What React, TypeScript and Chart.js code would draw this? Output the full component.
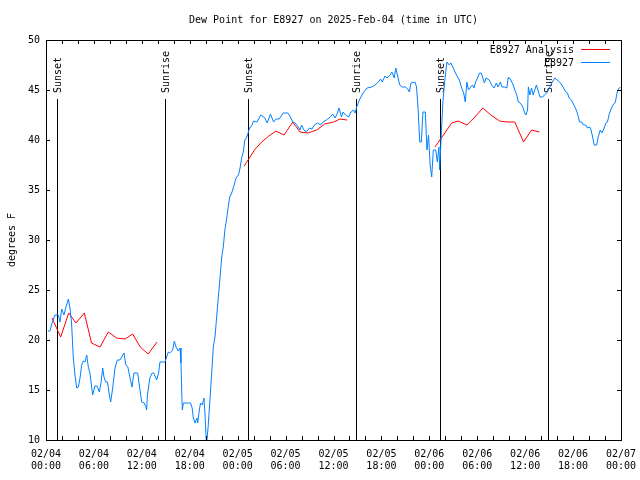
import React, { useEffect, useRef } from 'react';
import { Chart, registerables } from 'chart.js';

Chart.register(...registerables);

const FONT = '"DejaVu Sans Mono", monospace';
const TITLE = 'Dew Point for E8927 on 2025-Feb-04 (time in UTC)';
const Y_TITLE = 'degrees F';

const xTickDates = ['02/04', '02/04', '02/04', '02/04', '02/05', '02/05', '02/05', '02/05', '02/06', '02/06', '02/06', '02/06', '02/07'];
const xTickTimes = ['00:00', '06:00', '12:00', '18:00', '00:00', '06:00', '12:00', '18:00', '00:00', '06:00', '12:00', '18:00', '00:00'];

const seriesNames = ['E8927 Analysis', 'E8927'];
const seriesColors = ['#ff0000', '#0080ff'];

// hours since 02/04 00:00 UTC
const blueHours = [
  0.25, 0.5, 0.75, 1.13, 1.54, 1.75, 1.96, 2.25, 2.5, 2.8, 3.0, 3.2, 3.42, 3.63, 3.84, 4.05, 4.26, 4.47, 4.67, 4.88,
  5.1, 5.3, 5.5, 5.72, 5.84, 6.13, 6.4, 6.68, 6.9, 7.1, 7.26, 7.47, 7.7, 7.93, 8.1, 8.35, 8.64, 8.93, 9.26, 9.47,
  9.77, 10.0, 10.25, 10.5, 10.77, 11.0, 11.48, 11.68, 11.98, 12.3, 12.52, 12.6, 12.7, 13.0, 13.3, 13.5, 13.85, 14.1, 14.27, 14.9,
  15.1, 15.32, 15.5, 15.86, 16.07, 16.28, 16.57, 16.78, 16.9, 17.0, 17.07, 17.2, 18.1, 18.3, 18.45, 18.66, 18.9, 19.0, 19.2, 19.35,
  19.57, 19.78, 19.9, 20.0, 20.1, 20.3, 20.5, 20.75, 20.95, 21.16, 21.37, 21.58, 21.8, 22.0, 22.2, 22.4, 22.6, 22.8, 23.0, 23.25,
  23.45, 23.8, 24.1, 24.3, 24.5, 24.7, 24.9, 25.1, 25.3, 25.5, 25.8, 26.0, 26.4, 26.9, 27.4, 27.7, 28.1, 28.5, 28.8, 29.2,
  29.7, 30.3, 30.6, 30.9, 31.2, 31.5, 31.8, 32.0, 32.3, 32.6, 33.0, 33.3, 33.6, 34.0, 34.4, 34.7, 35.1, 35.6, 35.9, 36.2,
  36.5, 36.7, 37.0, 37.2, 37.5, 37.9, 38.2, 38.5, 38.7, 38.9, 39.3, 39.7, 40.2, 40.8, 41.2, 41.6, 41.9, 42.1, 42.45, 42.7,
  43.1, 43.3, 43.6, 43.8, 44.0, 44.3, 44.6, 45.0, 45.3, 45.5, 45.7, 46.2, 46.4, 46.6, 46.8, 47.0, 47.2, 47.5, 47.7, 47.9,
  48.1, 48.3, 48.5, 48.8, 49.0, 49.2, 49.3, 49.5, 49.7, 49.9, 50.2, 50.5, 50.7, 51.1, 51.4, 51.75, 52.05, 52.3, 52.5, 52.7,
  52.9, 53.1, 53.4, 53.6, 53.75, 54.3, 54.5, 54.7, 54.9, 55.1, 55.5, 55.8, 56.1, 56.4, 56.6, 56.9, 57.1, 57.45, 57.7, 57.9,
  58.2, 58.5, 58.7, 58.95, 59.15, 59.4, 59.7, 59.9, 60.1, 60.3, 60.4, 60.6, 60.8, 61.0, 61.2, 61.4, 61.6, 61.85, 62.2, 62.4,
  62.7, 63.1, 63.4, 63.7, 64.0, 64.3, 64.6, 64.8, 65.1, 65.3, 65.5, 65.8, 66.1, 66.4, 66.6, 66.8, 67.1, 67.3, 67.6, 67.8,
  68.1, 68.25, 68.45, 68.65, 68.95, 69.15, 69.4, 69.6, 69.9, 70.1, 70.3, 70.5, 70.7, 71.0, 71.3, 71.5, 71.7, 71.9,
];
const blueValues = [
  20.9, 20.9, 21.7, 22.5, 22.5, 21.8, 23.1, 22.5, 23.3, 24.1, 23.2, 21.7, 18.2, 16.5, 15.2, 15.3, 16.2, 17.5, 17.9, 17.8,
  18.5, 17.3, 16.7, 15.3, 14.5, 15.4, 15.4, 14.8, 15.8, 17.2, 16.3, 15.8, 15.8, 14.5, 13.8, 15.2, 17.2, 18.0, 18.0, 18.3,
  18.7, 17.5, 17.3, 16.3, 15.3, 16.7, 16.7, 15.5, 13.8, 13.7, 13.3, 13.0, 14.5, 16.2, 16.7, 16.7, 16.0, 16.7, 17.8, 17.8,
  18.3, 18.8, 18.7, 19.0, 19.9, 19.3, 18.9, 19.2, 17.7, 14.7, 13.0, 13.7, 13.7, 13.2, 12.2, 11.7, 12.2, 11.7, 13.0, 13.7,
  13.5, 14.2, 12.7, 11.0, 9.5, 11.3, 13.7, 16.7, 19.3, 20.3, 22.3, 24.3, 26.3, 28.3, 29.3, 31.0, 32.0, 33.2, 34.3, 34.7,
  35.2, 36.2, 36.5, 37.2, 38.2, 38.8, 40.0, 40.2, 40.7, 41.2, 41.5, 41.9, 41.8, 42.5, 42.2, 41.7, 42.6, 41.8, 42.1, 42.1,
  42.7, 42.7, 42.3, 41.8, 41.7, 41.4, 41.0, 41.5, 41.0, 40.8, 41.2, 41.1, 41.5, 41.7, 41.5, 41.8, 42.0, 42.3, 42.6, 42.2,
  42.7, 43.2, 42.3, 42.8, 42.5, 42.3, 42.8, 43.0, 42.7, 43.3, 44.1, 44.7, 45.2, 45.3, 45.5, 45.8, 46.1, 45.8, 46.4, 46.2,
  46.5, 46.8, 46.2, 47.2, 46.5, 45.5, 45.3, 45.3, 45.1, 44.8, 45.7, 45.8, 45.3, 43.0, 39.8, 39.8, 42.8, 42.8, 39.0, 40.5,
  37.5, 36.3, 39.0, 39.0, 37.8, 39.3, 37.0, 40.7, 43.8, 45.7, 47.8, 47.5, 47.7, 47.0, 46.5, 46.0, 45.2, 44.7, 43.8, 45.8,
  45.0, 45.2, 45.5, 45.2, 45.7, 46.7, 46.7, 46.2, 45.7, 46.2, 46.0, 45.5, 45.2, 45.7, 45.3, 45.8, 45.3, 45.3, 45.2, 46.3,
  46.0, 45.5, 45.0, 44.5, 43.8, 43.7, 43.3, 42.8, 42.5, 43.0, 45.3, 44.5, 45.2, 44.5, 45.0, 45.5, 45.0, 44.3, 44.3, 44.5,
  44.7, 45.3, 45.8, 46.2, 46.0, 45.8, 45.5, 45.2, 44.8, 44.7, 44.2, 44.0, 43.5, 43.0, 42.5, 41.8, 41.8, 41.5, 41.5, 41.2,
  41.3, 41.0, 40.3, 39.5, 39.5, 40.3, 41.0, 40.7, 41.2, 41.7, 41.8, 42.5, 43.0, 43.5, 43.8, 44.7, 45.1, 45.3,
];

const redHours = [
  0.75, 1.84, 2.84, 3.76, 4.8, 5.7, 6.76, 7.8, 8.85, 9.9, 10.85, 11.8, 12.8, 13.9,
  19.0,
  24.8, 25.3, 26.1, 27.0, 27.9, 28.8, 29.8, 30.9, 31.8, 32.8, 33.9, 34.9, 36.0, 36.8, 37.7,
  43.0,
  48.7, 49.5, 50.8, 51.6, 52.7, 53.7, 54.7, 55.7, 56.8, 57.7, 58.7, 59.8, 60.8, 61.8,
];
const redValues: (number | null)[] = [
  22.2, 20.3, 22.7, 21.7, 22.7, 19.7, 19.3, 20.8, 20.2, 20.1, 20.6, 19.3, 18.6, 19.8,
  null,
  37.4, 38.0, 39.0, 39.8, 40.4, 40.9, 40.5, 41.8, 40.8, 40.7, 41.0, 41.6, 41.8, 42.1, 42.0,
  null,
  39.3, 40.2, 41.7, 41.9, 41.5, 42.3, 43.2, 42.5, 41.9, 41.8, 41.8, 39.8, 41.0, 40.8,
];

const eventHours = [1.4, 14.9, 25.33, 38.86, 49.38, 62.9];
const eventLabels = ['Sunset', 'Sunrise', 'Sunset', 'Sunrise', 'Sunset', 'Sunrise'];

const framePlugin = {
  id: 'gnuframe',
  beforeDatasetsDraw(chart: any) {
    const { ctx, chartArea: a, scales } = chart;
    const xs = scales.x;
    ctx.save();
    ctx.strokeStyle = '#000';
    ctx.fillStyle = '#000';
    ctx.lineWidth = 1;
    ctx.font = `10px ${FONT}`;
    eventHours.forEach((h, i) => {
      const px = Math.round(xs.getPixelForValue(h)) + 0.5;
      ctx.beginPath();
      ctx.moveTo(px, a.top + 59);
      ctx.lineTo(px, a.bottom);
      ctx.stroke();
      ctx.save();
      ctx.translate(px + 0.5, a.top + 53);
      ctx.rotate(-Math.PI / 2);
      ctx.textAlign = 'left';
      ctx.textBaseline = 'middle';
      ctx.fillText(eventLabels[i], 0, 0);
      ctx.restore();
    });
    ctx.restore();
  },
  afterDatasetsDraw(chart: any) {
    const { ctx, chartArea: a, scales } = chart;
    ctx.save();
    ctx.strokeStyle = '#000';
    ctx.lineWidth = 1;
    ctx.strokeRect(a.left + 0.5, a.top + 0.5, a.right - a.left, a.bottom - a.top);
    const tl = 4;
    ctx.beginPath();
    scales.x.ticks.forEach((t: any) => {
      const px = Math.round(scales.x.getPixelForValue(t.value)) + 0.5;
      ctx.moveTo(px, a.bottom);
      ctx.lineTo(px, a.bottom - tl);
      ctx.moveTo(px, a.top);
      ctx.lineTo(px, a.top + tl);
    });
    scales.y.ticks.forEach((t: any) => {
      const py = Math.round(scales.y.getPixelForValue(t.value)) + 0.5;
      ctx.moveTo(a.left, py);
      ctx.lineTo(a.left + tl, py);
      ctx.moveTo(a.right, py);
      ctx.lineTo(a.right - tl, py);
    });
    ctx.stroke();

    // legend (gnuplot style: text then line sample)
    ctx.font = `10px ${FONT}`;
    ctx.fillStyle = '#000';
    ctx.textAlign = 'right';
    ctx.textBaseline = 'middle';
    chart.data.datasets.forEach((ds: any, i: number) => {
      const y = a.top + 9.5 + i * 13;
      ctx.fillText(ds.label, a.right - 47, y + 0.5);
      ctx.strokeStyle = ds.borderColor;
      ctx.beginPath();
      ctx.moveTo(a.right - 40, y);
      ctx.lineTo(a.right - 11, y);
      ctx.stroke();
    });
    ctx.restore();
  },
};

export default function App() {
  const ref = useRef<HTMLCanvasElement>(null);
  useEffect(() => {
    if (!ref.current) return;
    const chart = new Chart(ref.current, {
      type: 'line',
      data: {
        datasets: [
          {
            label: seriesNames[0],
            data: redHours.map((h, i) => ({ x: h, y: redValues[i] })),
            borderColor: seriesColors[0],
            backgroundColor: seriesColors[0],
            borderWidth: 1,
            pointRadius: 0,
            tension: 0,
            spanGaps: false,
            order: 1,
          },
          {
            label: seriesNames[1],
            data: blueHours.map((h, i) => ({ x: h, y: blueValues[i] })),
            borderColor: seriesColors[1],
            backgroundColor: seriesColors[1],
            borderWidth: 1,
            pointRadius: 0,
            tension: 0,
            order: 0,
          },
        ],
      },
      options: {
        animation: false,
        responsive: false,
        devicePixelRatio: 1,
        color: '#000',
        layout: { padding: { left: 0, right: 19, top: 0, bottom: 0 } },
        plugins: {
          legend: { display: false },
          tooltip: { enabled: false },
          title: {
            display: true,
            text: TITLE,
            color: '#000',
            fullSize: false,
            font: { family: FONT, size: 10, weight: 'normal', lineHeight: 1.2 },
            padding: { top: 14, bottom: 14 },
          },
        },
        scales: {
          x: {
            type: 'linear',
            min: 0,
            max: 72,
            grid: { display: false, drawTicks: false },
            border: { display: false },
            afterFit: (s: any) => {
              s.height = 40;
              s.paddingLeft = 0;
              s.paddingRight = 0;
            },
            ticks: {
              stepSize: 2,
              autoSkip: false,
              maxRotation: 0,
              minRotation: 0,
              padding: 8,
              color: '#000',
              font: { family: FONT, size: 10, lineHeight: 1.2 },
              callback: (v: any) => {
                const n = Number(v);
                if (n % 6 !== 0) return '';
                const k = n / 6;
                return [xTickDates[k], xTickTimes[k]];
              },
            },
          },
          y: {
            min: 10,
            max: 50,
            grid: { display: false, drawTicks: false },
            border: { display: false },
            afterFit: (s: any) => {
              s.width = 46;
              s.paddingTop = 0;
              s.paddingBottom = 0;
            },
            title: {
              display: true,
              text: Y_TITLE,
              color: '#000',
              font: { family: FONT, size: 10, lineHeight: 1.2 },
              padding: { top: 6, bottom: 0 },
            },
            ticks: {
              stepSize: 5,
              padding: 6,
              color: '#000',
              font: { family: FONT, size: 10, lineHeight: 1.2 },
            },
          },
        },
      },
      plugins: [framePlugin],
    } as any);
    return () => chart.destroy();
  }, []);
  return (
    <div style={{ position: 'absolute', left: 0, top: 0, width: 640, height: 480, background: '#fff' }}>
      <canvas ref={ref} width={640} height={480} style={{ display: 'block' }} />
    </div>
  );
}
